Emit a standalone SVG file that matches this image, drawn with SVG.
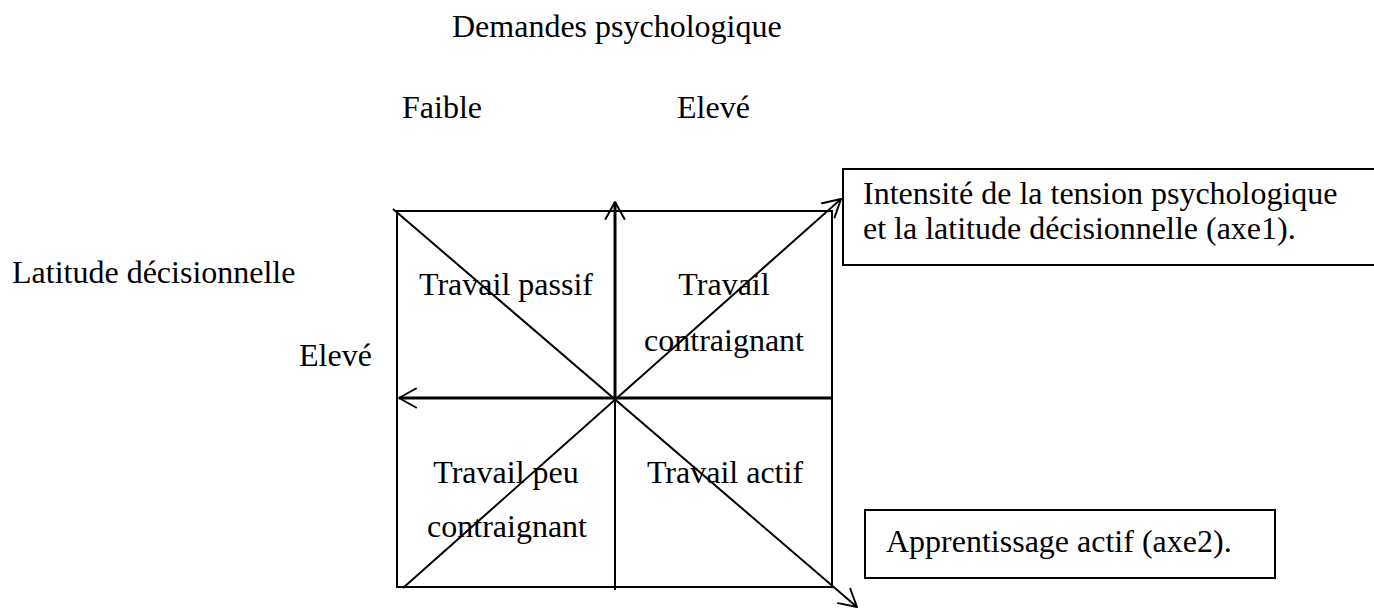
<svg xmlns="http://www.w3.org/2000/svg" width="1374" height="608" viewBox="0 0 1374 608">
  <style>
    text { font-family: "Liberation Serif", "Times New Roman", serif; font-size: 32px; fill: #000; }
    .mid { text-anchor: middle; }
    .box { fill: #fff; stroke: #000; stroke-width: 2; }
    .ln { stroke: #000; stroke-width: 2; fill: none; }
    .axis { stroke: #000; stroke-width: 3; fill: none; }
  </style>
  <defs>
    <marker id="arr" viewBox="-20 -12 22 24" markerWidth="22" markerHeight="24" refX="0" refY="0" markerUnits="userSpaceOnUse" orient="auto" overflow="visible">
      <path d="M -17 -9.5 L 0 0 L -17 9.5" fill="none" stroke="#000" stroke-width="2" stroke-linecap="round" stroke-linejoin="round"/>
    </marker>
  </defs>
  <rect width="1374" height="608" fill="#fff"/>

  <g id="titles">
    <text x="452" y="37">Demandes psychologique</text>
    <text x="402" y="118">Faible</text>
    <text x="677" y="118">Elevé</text>
    <text x="12" y="283">Latitude décisionnelle</text>
    <text x="299" y="366">Elevé</text>
  </g>

  <g id="grid">
    <rect x="397" y="211" width="435" height="376" fill="none" stroke="#000" stroke-width="2"/>
  </g>

  <g id="connectors">
    <line class="ln" x1="393" y1="209" x2="857" y2="607" marker-end="url(#arr)"/>
    <line class="ln" x1="403" y1="588" x2="841" y2="199" marker-end="url(#arr)"/>
    <line class="axis" x1="615" y1="398" x2="615" y2="202" marker-end="url(#arr)"/>
    <line class="ln" x1="615" y1="398" x2="615" y2="590"/>
    <line class="axis" x1="832" y1="398" x2="399" y2="398" marker-end="url(#arr)"/>
  </g>

  <g id="q-passif">
    <text class="mid" x="506" y="295">Travail passif</text>
  </g>
  <g id="q-contraignant">
    <text class="mid" x="724" y="295">Travail</text>
    <text class="mid" x="724" y="351">contraignant</text>
  </g>
  <g id="q-peu">
    <text class="mid" x="506" y="483">Travail peu</text>
    <text class="mid" x="507" y="537">contraignant</text>
  </g>
  <g id="q-actif">
    <text class="mid" x="725" y="483">Travail actif</text>
  </g>

  <g id="box-axe1">
    <rect class="box" x="843" y="169" width="545" height="96"/>
    <text x="863" y="204">Intensité de la tension psychologique</text>
    <text x="863" y="239">et la latitude décisionnelle (axe1).</text>
  </g>

  <g id="box-axe2">
    <rect class="box" x="865" y="510" width="410" height="68"/>
    <text x="886" y="552">Apprentissage actif (axe2).</text>
  </g>
</svg>
